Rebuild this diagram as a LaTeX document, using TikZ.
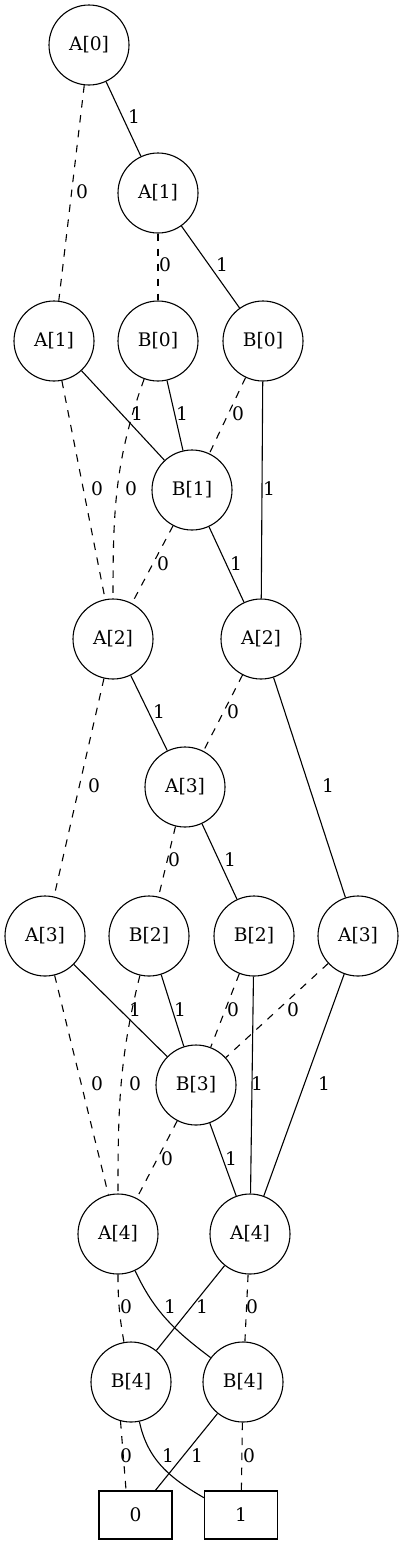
\documentclass[tikz,border=0pt]{standalone}
\usepackage{fontspec}
\setmainfont{DejaVu Serif}
\begin{document}
\begin{tikzpicture}[x=1pt,y=-1pt,
  bnode/.style={draw, circle, line width=1.1pt, minimum size=80pt, inner sep=0pt, font=\fontsize{18.67}{22}\selectfont},
  leaf/.style={draw, rectangle, line width=1.1pt, minimum width=73pt, minimum height=48pt, inner sep=0pt, font=\fontsize{18.67}{22}\selectfont},
  hi/.style={line width=1.1pt},
  lo/.style={line width=1.1pt, dash pattern=on 7.5pt off 7.5pt},
  lab/.style={inner sep=0pt, font=\fontsize{18.67}{22}\selectfont}]
\useasboundingbox (0,0) rectangle (404,1545);
% nodes
\node[bnode] (a0)   at (89,45)   {A[0]};
\node[bnode] (a1r)  at (158,193) {A[1]};
\node[bnode] (a1l)  at (54,341)  {A[1]};
\node[bnode] (b0m)  at (158,341) {B[0]};
\node[bnode] (b0r)  at (263,341) {B[0]};
\node[bnode] (b1)   at (192,490) {B[1]};
\node[bnode] (a2l)  at (113,639) {A[2]};
\node[bnode] (a2r)  at (261,639) {A[2]};
\node[bnode] (a3m)  at (185,787) {A[3]};
\node[bnode] (a3fl) at (45,936)  {A[3]};
\node[bnode] (b2l)  at (149,936) {B[2]};
\node[bnode] (b2r)  at (254,936) {B[2]};
\node[bnode] (a3fr) at (358,936) {A[3]};
\node[bnode] (b3)   at (196,1085) {B[3]};
\node[bnode] (a4l)  at (118,1234) {A[4]};
\node[bnode] (a4r)  at (250,1234) {A[4]};
\node[bnode] (b4l)  at (131,1382) {B[4]};
\node[bnode] (b4r)  at (243,1382) {B[4]};
\node[leaf]  (zero) at (135.5,1515) {0};
\node[leaf]  (one)  at (241,1515) {1};
% edges
\draw[lo] (a0) -- (a1l) node[lab] at (82,192) {0};
\draw[hi] (a0) -- (a1r) node[lab] at (134,117) {1};
\draw[lo] (a1r) -- (b0m) node[lab] at (165,265) {0};
\draw[hi] (a1r) -- (b0r) node[lab] at (222,265) {1};
\draw[hi] (a1l) -- (b1) node[lab] at (137,414) {1};
\draw[lo] (a1l) -- (a2l) node[lab] at (97,489) {0};
\draw[hi] (b0m) -- (b1) node[lab] at (182,414) {1};
\draw[lo] (b0m.250) to[out=250,in=90] (a2l.north);
\node[lab] (l0b0m) at (131,489) {0};
\draw[lo] (b0r) -- (b1) node[lab] at (238,414) {0};
\draw[hi] (b0r) -- (a2r) node[lab] at (269,489) {1};
\draw[lo] (b1) -- (a2l) node[lab] at (163,564) {0};
\draw[hi] (b1) -- (a2r) node[lab] at (236,564) {1};
\draw[hi] (a2l) -- (a3m) node[lab] at (159,712) {1};
\draw[lo] (a2r) -- (a3m) node[lab] at (233,712) {0};
\draw[lo] (a2l) -- (a3fl) node[lab] at (94,786) {0};
\draw[hi] (a2r) -- (a3fr) node[lab] at (328,786) {1};
\draw[lo] (a3m) -- (b2l) node[lab] at (174,860) {0};
\draw[hi] (a3m) -- (b2r) node[lab] at (230,860) {1};
\draw[hi] (a3fl) -- (b3) node[lab] at (135,1010) {1};
\draw[lo] (a3fl) -- (a4l) node[lab] at (97,1084) {0};
\draw[hi] (b2l) -- (b3) node[lab] at (180,1010) {1};
\draw[lo] (b2l.257) to[out=256,in=90] (a4l.north);
\node[lab] (l0b2l) at (135,1084) {0};
\draw[lo] (b2r) -- (b3) node[lab] at (233,1010) {0};
\draw[hi] (b2r) -- (a4r) node[lab] at (257,1084) {1};
\draw[lo] (a3fr) -- (b3) node[lab] at (293,1010) {0};
\draw[hi] (a3fr) -- (a4r) node[lab] at (324,1084) {1};
\draw[lo] (b3) -- (a4l) node[lab] at (167,1159) {0};
\draw[hi] (b3) -- (a4r) node[lab] at (231,1159) {1};
\draw[lo] (a4l.south) to[out=270,in=100] (b4l.100);
\node[lab] (l0a4l) at (126,1307) {0};
\draw[hi] (a4l.295) to[out=295,in=143] (b4r.143);
\node[lab] (l1a4l) at (170,1307) {1};
\draw[hi] (a4r) -- (b4l) node[lab] at (202,1307) {1};
\draw[lo] (a4r) -- (b4r) node[lab] at (252,1307) {0};
\draw[lo] (b4l.255) -- (zero.111) node[lab] at (126,1456) {0};
\draw[hi] (b4l.282) to[out=282,in=150] (one.155);
\node[lab] (l1b4l) at (168,1456) {1};
\draw[hi] (b4r) -- (zero) node[lab] at (197,1456) {1};
\draw[lo] (b4r) -- (one) node[lab] at (249,1456) {0};
\end{tikzpicture}
\end{document}
